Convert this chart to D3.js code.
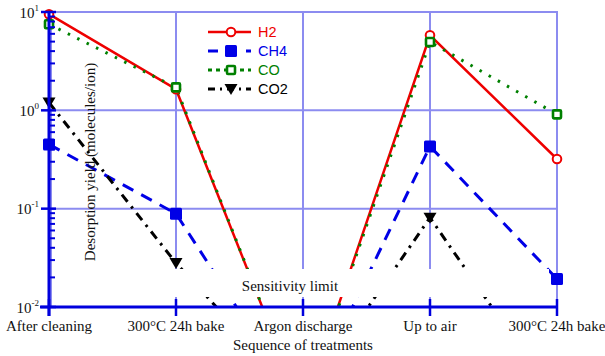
<!DOCTYPE html>
<html>
<head>
<meta charset="utf-8">
<script src="https://cdn.jsdelivr.net/npm/d3@7"></script>
<style>
  html, body { margin: 0; padding: 0; background: #fff; }
  svg { display: block; }
</style>
</head>
<body>
<svg id="chart" width="605" height="356"></svg>
<script>
// ---- data ----
const categories = ["After cleaning", "300°C 24h bake", "Argon discharge", "Up to air", "300°C 24h bake"];
const H2  = [9.5, 1.64, 0.0009, 5.8, 0.32];
const CH4 = [0.45, 0.089, 0.0009, 0.43, 0.0193];
const CO  = [7.5, 1.71, 0.0009, 4.95, 0.91];
const CO2 = [1.2, 0.028, 0.0011, 0.081, 0.0011];
const yTickExps = [-2, -1, 0, 1];
const seriesNames = ["H2", "CH4", "CO", "CO2"];

// ---- layout ----
const svg = d3.select("#chart");
const pL = 49, pR = 557, pT = 12, pB = 307;
const axisBlue = "#0000dd";
const gridBlue = "#8c8cf0";
const serif = "'Liberation Serif', 'Times New Roman', serif";
const sans = "'Liberation Sans', Arial, sans-serif";

const x = d3.scalePoint().domain(d3.range(categories.length)).range([pL, pR]);
const y = d3.scaleLog().domain([1e-2, 1e1]).range([pB, pT]);

const series = [
  {name: "H2",  values: H2,  color: "#ee0000", width: 2.5, dash: null,        legendDash: null,      marker: "circle"},
  {name: "CH4", values: CH4, color: "#0000e6", width: 3,   dash: "12,9",      legendDash: "10,9",    marker: "square"},
  {name: "CO",  values: CO,  color: "#008000", width: 3,   dash: "2.5,8",     legendDash: "4,4",     marker: "osquare"},
  {name: "CO2", values: CO2, color: "#000000", width: 3,   dash: "9,6,2.5,6", legendDash: "7,5,2,5", marker: "triangle"}
];

// clip
svg.append("defs").append("clipPath").attr("id", "plotclip")
  .append("rect").attr("x", 0).attr("y", 0).attr("width", 605).attr("height", pB);

// ---- grid ----
const grid = svg.append("g").attr("stroke", gridBlue).attr("stroke-width", 2).attr("fill", "none");
yTickExps.filter(e => e > -2).forEach(e => {
  grid.append("line").attr("x1", pL).attr("x2", pR).attr("y1", y(Math.pow(10, e))).attr("y2", y(Math.pow(10, e)));
});
d3.range(categories.length).forEach(i => {
  const xx = i === 0 ? x(i) + 2 : x(i);
  grid.append("line").attr("x1", xx).attr("x2", xx).attr("y1", pT - 1).attr("y2", pB);
});

// ---- lines ----
const lineGen = d3.line().x((d, i) => x(i)).y(d => y(d));
const lines = svg.append("g").attr("clip-path", "url(#plotclip)");
series.forEach(s => {
  lines.append("path")
    .attr("d", lineGen(s.values))
    .attr("fill", "none")
    .attr("stroke", s.color)
    .attr("stroke-width", s.width)
    .attr("stroke-dasharray", s.dash)
    .attr("stroke-linecap", "butt");
});

// ---- white band behind sensitivity label ----
svg.append("rect").attr("x", pL + 4).attr("y", 269).attr("width", 496).attr("height", 28).attr("fill", "#fff");

// ---- markers ----
function drawMarker(g, type, cx, cy, color) {
  if (type === "circle") {
    g.append("circle").attr("cx", cx).attr("cy", cy).attr("r", 4.3)
      .attr("fill", "#fff").attr("stroke", color).attr("stroke-width", 2);
  } else if (type === "square") {
    g.append("rect").attr("x", cx - 6).attr("y", cy - 6).attr("width", 12).attr("height", 12)
      .attr("rx", 1.5).attr("fill", color);
  } else if (type === "osquare") {
    g.append("rect").attr("x", cx - 4).attr("y", cy - 4).attr("width", 8).attr("height", 8)
      .attr("rx", 1).attr("fill", "#fff").attr("stroke", color).attr("stroke-width", 2.6);
  } else if (type === "triangle") {
    g.append("path").attr("d", `M${cx - 6.5},${cy - 5} L${cx + 6.5},${cy - 5} L${cx},${cy + 6} Z`)
      .attr("fill", color);
  }
}
const marks = svg.append("g").attr("clip-path", "url(#plotclip)");
series.forEach(s => {
  s.values.forEach((v, i) => drawMarker(marks, s.marker, x(i), y(v), s.color));
});

// ---- axes ----
const ax = svg.append("g").attr("stroke", axisBlue);
ax.append("line").attr("x1", pL).attr("x2", pL).attr("y1", pT - 1).attr("y2", pB + 9).attr("stroke-width", 3);
ax.append("line").attr("x1", pL - 9).attr("x2", pR + 1).attr("y1", pB).attr("y2", pB).attr("stroke-width", 3);
// y major ticks
yTickExps.forEach(e => {
  const yy = y(Math.pow(10, e));
  ax.append("line").attr("x1", pL - 8).attr("x2", pL + 7).attr("y1", yy).attr("y2", yy).attr("stroke-width", 2.5);
});
// y minor ticks
yTickExps.slice(0, -1).forEach(e => {
  d3.range(2, 10).forEach(m => {
    const yy = y(m * Math.pow(10, e));
    ax.append("line").attr("x1", pL).attr("x2", pL + 6).attr("y1", yy).attr("y2", yy).attr("stroke-width", 2);
  });
});
// x ticks
d3.range(categories.length).forEach(i => {
  ax.append("line").attr("x1", x(i)).attr("x2", x(i)).attr("y1", pB - 8).attr("y2", pB + 9).attr("stroke-width", 2.5);
});

// ---- tick labels ----
const yl = svg.append("g").attr("font-family", serif).attr("fill", "#111");
yTickExps.forEach(e => {
  const yy = y(Math.pow(10, e));
  const t = yl.append("text").attr("x", 39).attr("y", yy + 5.5).attr("text-anchor", "end").attr("font-size", 15);
  t.append("tspan").text("10");
  t.append("tspan").attr("font-size", 9).attr("dy", -7).text(String(e));
});
const xl = svg.append("g").attr("font-family", serif).attr("font-size", 15).attr("fill", "#111").attr("text-anchor", "middle");
categories.forEach((c, i) => {
  xl.append("text").attr("x", x(i)).attr("y", 331).text(c);
});

// ---- titles ----
svg.append("text").attr("x", x(2)).attr("y", 350).attr("text-anchor", "middle")
  .attr("font-family", serif).attr("font-size", 15).attr("fill", "#111").text("Sequence of treatments");
svg.append("text").attr("transform", "translate(95,162) rotate(-90)").attr("text-anchor", "middle")
  .attr("font-family", serif).attr("font-size", 15).attr("fill", "#111").text("Desorption yield (molecules/ion)");
svg.append("text").attr("x", 290).attr("y", 291).attr("text-anchor", "middle")
  .attr("font-family", serif).attr("font-size", 15).attr("fill", "#111").text("Sensitivity limit");

// ---- legend ----
const lg = svg.append("g");
series.forEach((s, k) => {
  const ly = 32 + k * 19;
  lg.append("line").attr("x1", 208).attr("x2", 251).attr("y1", ly).attr("y2", ly)
    .attr("stroke", s.color).attr("stroke-width", s.width).attr("stroke-dasharray", s.legendDash);
  drawMarker(lg, s.marker, 231, ly, s.color);
  lg.append("text").attr("x", 258).attr("y", ly + 5).attr("font-family", sans).attr("font-size", 14.5)
    .attr("fill", s.name === "CO2" ? "#000" : s.color).text(seriesNames[k]);
});
</script>
</body>
</html>
